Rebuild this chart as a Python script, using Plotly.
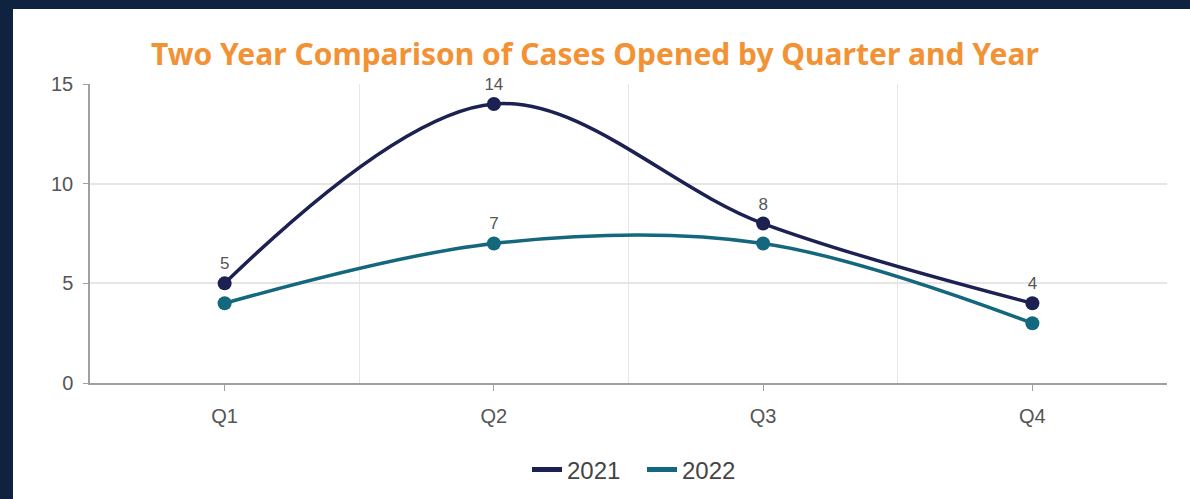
import plotly.graph_objects as go

quarters = ["Q1", "Q2", "Q3", "Q4"]
cases_2021 = [5, 14, 8, 4]
cases_2022 = [4, 7, 7, 3]
labels_2021 = [True, True, True, True]
labels_2022 = [False, True, False, False]
y_ticks = [0, 5, 10, 15]

title_text = "Two Year Comparison of Cases Opened by Quarter and Year"
c2021 = "#1c2152"
c2022 = "#14687e"
xpos = list(range(len(quarters)))
tick_font = dict(family="Liberation Sans, Arial", size=20, color="#555555")

fig = go.Figure()
for name, vals, show, col in [("2021", cases_2021, labels_2021, c2021),
                              ("2022", cases_2022, labels_2022, c2022)]:
    fig.add_trace(go.Scatter(
        x=xpos, y=vals, mode="lines+markers+text", name=name,
        text=[str(v) if s else "" for v, s in zip(vals, show)],
        textposition="top center",
        textfont=dict(family="Liberation Sans, Arial", size=17, color="#555555"),
        line=dict(color=col, width=3.5, shape="spline", smoothing=1.0),
        marker=dict(color=col, size=14),
        showlegend=False, cliponaxis=False))

for name, col in [("2021", c2021), ("2022", c2022)]:
    fig.add_trace(go.Scatter(x=[None], y=[None], mode="lines", name=name,
                             line=dict(color=col, width=5)))

L, R, T, B = 90, 23, 84, 116
W, H = 1190, 499
pw, ph = W - L - R, H - T - B

fig.add_shape(type="rect", xref="paper", yref="paper", layer="below",
              x0=(13 - L) / pw, x1=(W + 10 - L) / pw,
              y0=-(B + 10) / ph, y1=(H - B - 9) / ph,
              fillcolor="white", line=dict(width=0))

fig.update_layout(
    width=W, height=H,
    margin=dict(l=L, r=R, t=T, b=B, autoexpand=False),
    paper_bgcolor="#0f2340",
    plot_bgcolor="white",
    title=dict(text="<b>" + title_text + "</b>", x=0.5, xanchor="center",
               xref="container", y=1 - 54 / H, yref="container", yanchor="middle",
               font=dict(family="Noto Sans", size=30, color="#f39234")),
    xaxis=dict(range=[-0.5, 3.5], tickvals=xpos, ticktext=quarters,
               showgrid=False, zeroline=False,
               showline=True, linecolor="#a0a0a0", linewidth=1.5,
               ticks="outside", ticklen=6, tickcolor="#a0a0a0",
               tickfont=tick_font, ticklabelstandoff=8,
               minor=dict(tickvals=[0.5, 1.5, 2.5], showgrid=True,
                          gridcolor="#e6e6e6", gridwidth=1, ticklen=0)),
    yaxis=dict(range=[0, 15], tickvals=y_ticks, showgrid=True,
               gridcolor="#e6e6e6", gridwidth=1.5, zeroline=False,
               showline=True, linecolor="#a0a0a0", linewidth=1.5,
               ticks="outside", ticklen=5, tickcolor="#a0a0a0",
               tickfont=tick_font, ticklabelstandoff=6),
    legend=dict(orientation="h", x=(642 - L) / pw, xanchor="center",
                y=-(470 - (H - B)) / ph, yanchor="middle",
                font=dict(family="Liberation Sans, Arial", size=24, color="#444444"),
                bgcolor="rgba(0,0,0,0)", itemwidth=30, entrywidth=70),
)

fig.write_html("out.html", config={"displayModeBar": False},
               post_script="document.body.style.margin='0';")
